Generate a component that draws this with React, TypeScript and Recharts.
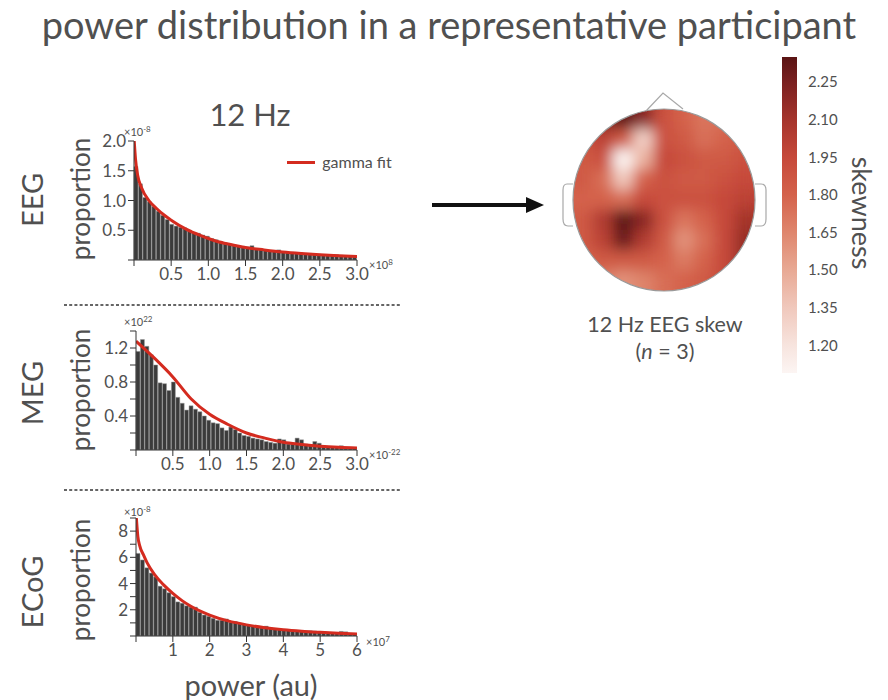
import React from 'react';
import { ComposedChart, Bar, Line, XAxis, YAxis, ScatterChart, Scatter, BarChart } from 'recharts';

const FONT = 'Lato, "Open Sans", sans-serif';
const TXT = '#505050';

// ---------- histogram data ----------
const eegBins = [1.57, 1.28, 1.05, 0.98, 0.9, 0.82, 0.75, 0.68, 0.6, 0.57, 0.55, 0.54, 0.5, 0.46, 0.45, 0.42, 0.4, 0.36, 0.34, 0.31, 0.29, 0.27, 0.26, 0.24, 0.23, 0.22, 0.24, 0.19, 0.18, 0.17, 0.16, 0.16, 0.17, 0.14, 0.13, 0.13, 0.12, 0.12, 0.11, 0.11, 0.1, 0.1, 0.09, 0.09, 0.08, 0.09, 0.08, 0.07, 0.07, 0.06];
const eegFitX = [0.003, 0.02, 0.05, 0.1, 0.2, 0.3, 0.4, 0.5, 0.7, 0.9, 1.1, 1.3, 1.5, 1.75, 2.0, 2.25, 2.5, 2.75, 3.0];
const eegFitY = [2.0, 1.7, 1.42, 1.22, 1.0, 0.87, 0.76, 0.67, 0.52, 0.41, 0.32, 0.26, 0.21, 0.17, 0.135, 0.11, 0.09, 0.072, 0.058];
const eegXTicks = [0, 0.5, 1.0, 1.5, 2.0, 2.5, 3.0];
const eegYTicks = [0, 0.5, 1.0, 1.5, 2.0];
const eegYLabels = ['0.5', '1.0', '1.5', '2.0'];

const megBins = [1.16, 1.3, 1.22, 1.12, 1.0, 0.79, 0.78, 0.7, 0.8, 0.62, 0.55, 0.47, 0.52, 0.48, 0.45, 0.4, 0.35, 0.32, 0.31, 0.26, 0.23, 0.27, 0.24, 0.2, 0.17, 0.16, 0.14, 0.13, 0.12, 0.1, 0.09, 0.08, 0.13, 0.12, 0.07, 0.07, 0.14, 0.12, 0.07, 0.06, 0.1, 0.08, 0.05, 0.04, 0.04, 0.04, 0.05, 0.03, 0.02, 0.02];
const megFitX = [0, 0.25, 0.5, 0.75, 1.0, 1.25, 1.5, 1.75, 2.0, 2.25, 2.5, 2.75, 3.0];
const megFitY = [1.28, 1.08, 0.86, 0.6, 0.42, 0.3, 0.2, 0.14, 0.09, 0.065, 0.045, 0.032, 0.024];
const megXTicks = [0, 0.5, 1.0, 1.5, 2.0, 2.5, 3.0];
const megYTicks = [0, 0.2, 0.4, 0.6, 0.8, 1.0, 1.2, 1.4];
const megYLabels = ['0.4', '0.8', '1.2'];

const ecogBins = [6.3, 5.8, 5.2, 4.8, 4.5, 3.8, 3.6, 3.3, 3.0, 2.6, 2.5, 2.3, 2.2, 2.2, 1.8, 1.6, 1.5, 1.35, 1.2, 1.2, 1.3, 1.05, 1.1, 0.95, 0.9, 0.8, 0.75, 0.7, 0.65, 0.75, 0.6, 0.55, 0.5, 0.5, 0.45, 0.45, 0.42, 0.4, 0.4, 0.4, 0.38, 0.3, 0.28, 0.25, 0.22, 0.2, 0.35, 0.32, 0.2, 0.18];
const ecogFitX = [0.01, 0.05, 0.1, 0.2, 0.3, 0.5, 0.75, 1.0, 1.25, 1.5, 2.0, 2.5, 3.0, 3.5, 4.0, 4.5, 5.0, 5.5, 6.0];
const ecogFitY = [9.0, 7.6, 6.9, 6.2, 5.6, 4.7, 3.9, 3.25, 2.7, 2.25, 1.6, 1.15, 0.85, 0.63, 0.47, 0.36, 0.28, 0.21, 0.16];
const ecogXTicks = [0, 1, 2, 3, 4, 5, 6];
const ecogYTicks = [0, 1, 2, 3, 4, 5, 6, 7, 8, 9];
const ecogYLabels = ['2', '4', '6', '8'];

// ---------- topography (skewness grid, rows front->back, cols left->right) ----------
const skewRows = [
  [2.05, 2.25, 2.35, 2.2, 1.9, 1.8, 1.72, 1.75, 1.8],
  [1.9, 2.0, 1.85, 1.3, 1.9, 1.85, 1.74, 1.8, 1.85],
  [1.85, 1.9, 1.05, 1.45, 1.95, 1.9, 1.85, 1.85, 1.9],
  [1.85, 1.75, 1.35, 1.8, 1.9, 1.85, 1.85, 1.9, 1.95],
  [1.8, 1.8, 1.75, 1.95, 1.9, 1.9, 1.9, 1.95, 2.0],
  [1.85, 2.05, 2.45, 2.2, 1.9, 1.72, 1.8, 1.95, 2.1],
  [1.85, 2.0, 2.3, 2.05, 1.85, 1.6, 1.75, 1.95, 2.15],
  [1.8, 1.85, 1.85, 1.85, 1.8, 1.7, 1.8, 1.95, 2.15],
  [1.75, 1.68, 1.6, 1.66, 1.75, 1.8, 1.85, 1.95, 2.0],
];
const cbMin = 1.09;
const cbMax = 2.35;
const cbTicks = [1.2, 1.35, 1.5, 1.65, 1.8, 1.95, 2.1, 2.25];
const cmapVals = [1.09, 1.2, 1.35, 1.5, 1.65, 1.8, 1.95, 2.1, 2.25, 2.35];
const cmapCols = ['#fcf5f3', '#f7e4de', '#f0c8bc', '#e8a994', '#df866d', '#d4624b', '#c6493a', '#a5342c', '#7a2020', '#5a1414'];

function hexToRgb(h: string) {
  return [parseInt(h.slice(1, 3), 16), parseInt(h.slice(3, 5), 16), parseInt(h.slice(5, 7), 16)];
}
function cmap(v: number) {
  const x = Math.max(cmapVals[0], Math.min(cmapVals[cmapVals.length - 1], v));
  for (let i = 0; i < cmapVals.length - 1; i++) {
    if (x <= cmapVals[i + 1]) {
      const t = (x - cmapVals[i]) / (cmapVals[i + 1] - cmapVals[i]);
      const a = hexToRgb(cmapCols[i]);
      const b = hexToRgb(cmapCols[i + 1]);
      const c = a.map((q, k) => Math.round(q + (b[k] - q) * t));
      return `rgb(${c[0]},${c[1]},${c[2]})`;
    }
  }
  return cmapCols[cmapCols.length - 1];
}

const tickStyle = { fill: TXT, fontSize: 17, fontFamily: FONT };

function Hist(props: any) {
  const { top, bins, fitX, fitY, xMax, xTicks, yMax, yTicks, yLabels, yAxisWidth, height } = props;
  const barData = bins.map((v: number, i: number) => ({ i, v }));
  const lineData = fitX.map((x: number, k: number) => ({ x, y: fitY[k] }));
  const yFmt = (v: number) => {
    const s1 = v.toFixed(1);
    const s0 = String(Math.round(v));
    if (yLabels.includes(s1)) return s1;
    if (yLabels.includes(s0) && Math.abs(v - Math.round(v)) < 1e-9) return s0;
    return '';
  };
  const xFmt = (v: number) => (v === 0 ? '' : xMax > 4 ? String(v) : v.toFixed(1));
  return (
    <div style={{ position: 'absolute', left: 60, top }}>
      <ComposedChart width={330} height={height} data={barData} margin={{ top: 21, right: 33, left: 0, bottom: 0 }} barCategoryGap={0} barGap={0}>
        <XAxis xAxisId="num" dataKey="x" type="number" domain={[0, xMax]} ticks={xTicks} allowDataOverflow height={30} tickFormatter={xFmt} tick={tickStyle} stroke="#333" tickSize={6} interval={0} />
        <XAxis xAxisId="cat" dataKey="i" type="category" hide height={0} />
        <YAxis dataKey="v" type="number" domain={[0, yMax]} ticks={yTicks} allowDataOverflow width={yAxisWidth} tickFormatter={yFmt} tick={tickStyle} stroke="#333" tickSize={6} interval={0} />
        <Bar xAxisId="cat" dataKey="v" fill="#3b3b3b" stroke="#9a9a9a" strokeWidth={0.5} isAnimationActive={false} />
        <Line xAxisId="num" data={lineData} dataKey="y" type="monotone" stroke="#d42b1f" strokeWidth={3} dot={false} isAnimationActive={false} />
      </ComposedChart>
    </div>
  );
}

function CText(props: any) {
  const { x, y, size, rot, children, style } = props;
  return (
    <div style={{ position: 'absolute', left: x, top: y, transform: `translate(-50%, -50%)${rot ? ` rotate(${rot}deg)` : ''}`, fontSize: size, fontFamily: FONT, color: TXT, whiteSpace: 'nowrap', lineHeight: 1, ...style }}>
      {children}
    </div>
  );
}

function Exp(props: any) {
  const { x, y, e } = props;
  return (
    <div style={{ position: 'absolute', left: x, top: y, fontSize: 11, fontFamily: FONT, color: TXT, whiteSpace: 'nowrap', lineHeight: 1 }}>
      ×10<span style={{ fontSize: 8, position: 'relative', top: -4 }}>{e}</span>
    </div>
  );
}

const topoData = skewRows.flatMap((row, r) => row.map((v, c) => ({ c, r, v })));

function TopoCell(p: any) {
  const { cx, cy, payload } = p;
  if (cx == null || cy == null) return null;
  return <rect x={cx - 10.7} y={cy - 10.7} width={21.4} height={21.4} fill={cmap(payload.v)} />;
}

export default function App() {
  return (
    <div style={{ position: 'absolute', left: 0, top: 0, width: 888, height: 700, background: '#fff', overflow: 'hidden', fontFamily: FONT }}>
      <style>{`.topo .recharts-scatter { filter: url(#topoBlur); clip-path: url(#headClip); }`}</style>
      <svg width={0} height={0} style={{ position: 'absolute' }}>
        <defs>
          <linearGradient id="cbGrad" x1="0" y1="0" x2="0" y2="1">
            {cmapVals.slice().reverse().map((v, i) => (
              <stop key={i} offset={(cbMax - v) / (cbMax - cbMin)} stopColor={cmapCols[cmapCols.length - 1 - i]} />
            ))}
          </linearGradient>
          <filter id="topoBlur" x="-20%" y="-20%" width="140%" height="140%">
            <feGaussianBlur stdDeviation="7" />
            <feComponentTransfer>
              <feFuncA type="linear" slope="3" intercept="0" />
            </feComponentTransfer>
          </filter>
          <clipPath id="headClip" clipPathUnits="userSpaceOnUse">
            <circle cx={101} cy={101} r={91} />
          </clipPath>
        </defs>
      </svg>

      <CText x={449} y={24} size={38}>power distribution in a representative participant</CText>

      <CText x={250} y={114} size={31}>12 Hz</CText>

      <CText x={31} y={200} size={29} rot={-90}>EEG</CText>
      <CText x={31} y={393} size={29} rot={-90}>MEG</CText>
      <CText x={31} y={592} size={29} rot={-90}>ECoG</CText>
      <CText x={80} y={199} size={26} rot={-90}>proportion</CText>
      <CText x={80} y={390} size={26} rot={-90}>proportion</CText>
      <CText x={80} y={580} size={26} rot={-90}>proportion</CText>
      <CText x={251} y={684} size={29}>power (au)</CText>

      <Hist top={120} height={170} bins={eegBins} fitX={eegFitX} fitY={eegFitY} xMax={3} xTicks={eegXTicks} yMax={2} yTicks={eegYTicks} yLabels={eegYLabels} yAxisWidth={74} />
      <Hist top={310} height={170} bins={megBins} fitX={megFitX} fitY={megFitY} xMax={3} xTicks={megXTicks} yMax={1.4} yTicks={megYTicks} yLabels={megYLabels} yAxisWidth={76} />
      <Hist top={497} height={169} bins={ecogBins} fitX={ecogFitX} fitY={ecogFitY} xMax={6} xTicks={ecogXTicks} yMax={9} yTicks={ecogYTicks} yLabels={ecogYLabels} yAxisWidth={76} />

      <Exp x={124} y={126} e="-8" />
      <Exp x={369} y={259} e="8" />
      <Exp x={124} y={316} e="22" />
      <Exp x={369} y={449} e="-22" />
      <Exp x={124} y={506} e="-8" />
      <Exp x={366} y={636} e="7" />

      {/* legend */}
      <div style={{ position: 'absolute', left: 287, top: 161, width: 28, height: 3, background: '#d42b1f' }} />
      <CText x={357} y={162} size={16}>gamma fit</CText>

      {/* topography */}
      <svg width={888} height={700} style={{ position: 'absolute', left: 0, top: 0 }}>
        <circle cx={664} cy={200} r={90} fill="#c9553f" />
      </svg>
      <div className="topo" style={{ position: 'absolute', left: 563, top: 99 }}>
        <ScatterChart width={202} height={202} margin={{ top: 10, right: 10, bottom: 10, left: 10 }}>
          <XAxis type="number" dataKey="c" domain={[-0.5, 8.5]} hide allowDataOverflow />
          <YAxis type="number" dataKey="r" domain={[-0.5, 8.5]} reversed hide allowDataOverflow />
          <Scatter data={topoData} shape={TopoCell} isAnimationActive={false} />
        </ScatterChart>
      </div>

      {/* decorations: separators, arrow, head outline */}
      <svg width={888} height={700} style={{ position: 'absolute', left: 0, top: 0, pointerEvents: 'none' }}>
        <line x1={64} y1={305} x2={400} y2={305} stroke="#333" strokeWidth={1.3} strokeDasharray="3 2.2" />
        <line x1={64} y1={490} x2={400} y2={490} stroke="#333" strokeWidth={1.3} strokeDasharray="3 2.2" />
        <line x1={432} y1={205} x2={528} y2={205} stroke="#111" strokeWidth={4} />
        <polygon points="526,197 544,205 526,213" fill="#111" />
        <circle cx={664} cy={200} r={91} fill="none" stroke="#9a9a9a" strokeWidth={1.2} />
        <polyline points="646,111 663,93 683,109" fill="none" stroke="#a8a8a8" strokeWidth={1.2} />
        <path d="M573,184 L567,184 Q563,184 563,190 L563,219 Q563,226 568,226 L573,226" fill="none" stroke="#a8a8a8" strokeWidth={1.2} />
        <path d="M755,184 L761,184 Q766,184 766,190 L766,219 Q766,226 761,226 L755,226" fill="none" stroke="#a8a8a8" strokeWidth={1.2} />
      </svg>

      <CText x={665} y={325} size={21.5}>12 Hz EEG skew</CText>
      <CText x={665} y={352} size={21.5}>(<i>n</i> = 3)</CText>

      {/* colorbar */}
      <div style={{ position: 'absolute', left: 770, top: 50 }}>
        <BarChart width={90} height={330} data={[{ name: 'cb', range: [cbMin, cbMax] }]} margin={{ top: 7, right: 0, left: 12, bottom: 7 }} barCategoryGap={0}>
          <XAxis dataKey="name" hide height={0} />
          <YAxis orientation="right" type="number" domain={[cbMin, cbMax]} ticks={cbTicks} allowDataOverflow tickFormatter={(v: number) => v.toFixed(2)} axisLine={false} tickLine={false} width={63} tickMargin={5} interval={0} tick={{ fill: TXT, fontSize: 15, fontFamily: FONT, textAnchor: 'start' }} />
          <Bar dataKey="range" fill="url(#cbGrad)" isAnimationActive={false} />
        </BarChart>
      </div>
      <CText x={862} y={213} size={27} rot={90}>skewness</CText>
    </div>
  );
}
